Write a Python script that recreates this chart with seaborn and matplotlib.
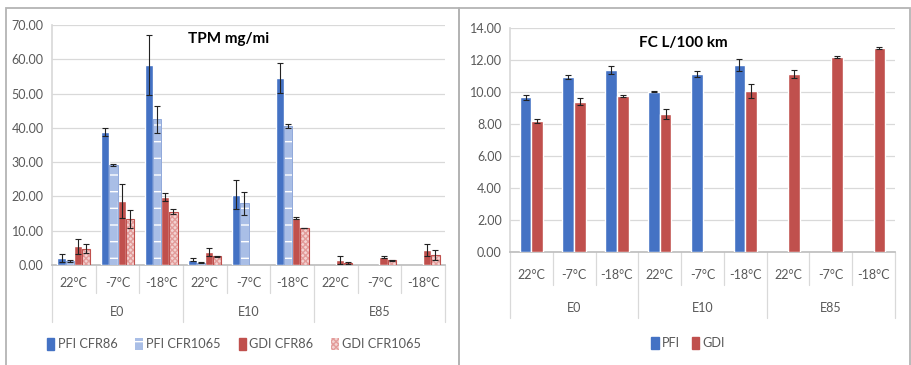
import numpy as np
import pandas as pd
import matplotlib
matplotlib.use("Agg")
import matplotlib.pyplot as plt
from matplotlib.patches import Patch, Rectangle
import seaborn as sns

# ---- data -------------------------------------------------------------
fuels = ["E0", "E10", "E85"]
temps = ["22°C", "-7°C", "-18°C"]
nan = np.nan

# Total particulate mass, mg/mi (mean and standard deviation)
tpm_series = ["PFI CFR86", "PFI CFR1065", "GDI CFR86", "GDI CFR1065"]
pfi_cfr86 = [2.0, 38.8, 58.3, 1.6, 20.5, 54.5, nan, nan, nan]
pfi_cfr86_sd = [1.1, 1.2, 8.8, 0.3, 4.2, 4.3, nan, nan, nan]
pfi_cfr1065 = [1.2, 29.3, 42.5, 0.7, 18.0, 40.5, nan, nan, nan]
pfi_cfr1065_sd = [0.2, 0.3, 4.0, 0.1, 3.3, 0.6, nan, nan, nan]
gdi_cfr86 = [5.4, 18.7, 19.8, 3.9, nan, 13.8, 1.5, 2.3, 4.3]
gdi_cfr86_sd = [2.1, 5.0, 1.2, 1.2, nan, 0.3, 1.2, 0.3, 1.7]
gdi_cfr1065 = [4.7, 13.5, 15.6, 2.5, nan, 10.8, 0.5, 1.4, 3.0]
gdi_cfr1065_sd = [1.3, 2.6, 0.8, 0.2, nan, 0.1, 0.3, 0.2, 1.4]

# Fuel consumption, L/100 km
fc_series = ["PFI", "GDI"]
fc_pfi = [9.67, 10.94, 11.38, 10.02, 11.13, 11.69, nan, nan, nan]
fc_pfi_sd = [0.15, 0.15, 0.25, 0.03, 0.18, 0.35, nan, nan, nan]
fc_gdi = [8.19, 9.40, 9.75, 8.63, nan, 10.06, 11.13, 12.17, 12.77]
fc_gdi_sd = [0.12, 0.20, 0.05, 0.30, nan, 0.45, 0.25, 0.07, 0.07]

# ---- style ------------------------------------------------------------
BLUE = "#4472C4"
LIGHT_BLUE = "#A9BEE6"
RED = "#C0504D"
LIGHT_RED = "#F3D3D2"
GRID = "#D9D9D9"
TXT = "#595959"
FS = 9

sns.set_theme(style="white")
plt.rcParams["font.family"] = ["Lato", "DejaVu Sans"]
plt.rcParams["hatch.linewidth"] = 1.0

cats = [f"{f}|{t}" for f in fuels for t in temps]


def long_frame(series_names, values, sds):
    rows = []
    for name, vals, sd in zip(series_names, values, sds):
        for c, v, s in zip(cats, vals, sd):
            rows.append({"cat": c, "series": name, "value": v, "sd": s})
    return pd.DataFrame(rows)


tpm = long_frame(tpm_series,
                 [pfi_cfr86, pfi_cfr1065, gdi_cfr86, gdi_cfr1065],
                 [pfi_cfr86_sd, pfi_cfr1065_sd, gdi_cfr86_sd, gdi_cfr1065_sd])
fc = long_frame(fc_series, [fc_pfi, fc_gdi], [fc_pfi_sd, fc_gdi_sd])

W, H = 911, 365
fig = plt.figure(figsize=(W / 100, H / 100), dpi=100)


def px_axes(x0, x1, y_top, y_bot):
    return fig.add_axes([x0 / W, 1 - y_bot / H, (x1 - x0) / W, (y_bot - y_top) / H])


# panel frames
for x0, x1 in [(6, 459), (458.5, 909.5)]:
    fig.patches.append(Rectangle((x0 / W, -0.05), (x1 - x0) / W, 1.05 - 7.5 / H,
                                 transform=fig.transFigure, fill=False,
                                 edgecolor="#B4B4B4", linewidth=1.3))


def draw_panel(ax, df, series, palette, width, ymax, title, title_xy,
               temp_off, group_off, tsep, gsep):
    sns.barplot(data=df, x="cat", y="value", hue="series", order=cats,
                hue_order=series, palette=palette, width=width, errorbar=None,
                saturation=1, legend=False, ax=ax, zorder=3)
    # error bars at the drawn bar centres
    for cont, name in zip(ax.containers, series):
        sub = df[df["series"] == name].set_index("cat")
        for bar in cont:
            xc = bar.get_x() + bar.get_width() / 2
            i = int(round(xc))
            v, s = sub.loc[cats[i], "value"], sub.loc[cats[i], "sd"]
            if np.isfinite(v) and np.isfinite(s):
                ax.errorbar(xc, v, yerr=s, fmt="none", ecolor="#222222",
                            elinewidth=0.8, capsize=2.5, capthick=0.8, zorder=4)
    ax.set_xlim(-0.5, len(cats) - 0.5)
    ax.set_ylim(0, ymax)
    ax.set_xlabel("")
    ax.set_ylabel("")
    ax.set_xticks(range(len(cats)))
    ax.set_xticklabels([])
    ax.tick_params(axis="x", length=0)
    ax.tick_params(axis="y", length=3, color="#BFBFBF", labelsize=FS,
                   labelcolor=TXT, pad=3)
    ax.yaxis.set_major_formatter(matplotlib.ticker.FormatStrFormatter("%.2f"))
    ax.grid(axis="y", color=GRID, linewidth=0.9, zorder=0)
    for sp in ["top", "right"]:
        ax.spines[sp].set_visible(False)
    ax.spines["left"].set_color(GRID)
    ax.spines["bottom"].set_color("#BFBFBF")
    ax.set_axisbelow(True)
    # two-level category axis
    for i, c in enumerate(cats):
        ax.annotate(c.split("|")[1], xy=(i, 0), xycoords=("data", "axes fraction"),
                    xytext=(0, -temp_off), textcoords="offset pixels",
                    ha="center", va="center", fontsize=FS, color=TXT)
    for g, f in enumerate(fuels):
        ax.annotate(f, xy=(3 * g + 1, 0), xycoords=("data", "axes fraction"),
                    xytext=(0, -group_off), textcoords="offset pixels",
                    ha="center", va="center", fontsize=FS, color=TXT)
    trans = ax.get_xaxis_transform()
    for k in range(len(cats) + 1):
        xb = k - 0.5
        depth = gsep if k % 3 == 0 else tsep
        ax.plot([xb, xb], [0, -depth], transform=trans, color=GRID,
                linewidth=0.9, clip_on=False)
    ax.text(title_xy[0], title_xy[1], title, transform=ax.transAxes,
            ha="center", va="center", fontsize=11, fontweight="bold",
            color="black")


# ---- left: TPM ----------------------------------------------------------
ax1 = px_axes(52, 445, 25, 265)
draw_panel(ax1, tpm, tpm_series, [BLUE, LIGHT_BLUE, RED, LIGHT_RED], 0.75, 70,
           "TPM mg/mi", (0.45, 0.94), 18, 47, 28 / 240, 57 / 240)
ax1.set_yticks(np.arange(0, 71, 10))
# pattern fills for the CFR1065 series
for bar in ax1.containers[1]:
    bar.set_hatch("-")
    bar.set_edgecolor("white")
    bar.set_linewidth(0)
for bar in ax1.containers[3]:
    bar.set_hatch("xxxxxx")
    bar.set_edgecolor("#E39C9A")
    bar.set_linewidth(0)
for bar in ax1.containers[1]:
    x, w, h = bar.get_x(), bar.get_width(), bar.get_height()
    if np.isfinite(h):
        ax1.add_patch(Rectangle((x, 0), w, h, fill=False, edgecolor="#8FA8DA",
                                linewidth=0.7, zorder=3))
for bar in ax1.containers[3]:
    x, w, h = bar.get_x(), bar.get_width(), bar.get_height()
    if np.isfinite(h):
        ax1.add_patch(Rectangle((x, 0), w, h, fill=False, edgecolor=RED,
                                linewidth=0.8, zorder=3))

h1 = [Patch(facecolor=BLUE, edgecolor=BLUE),
      Patch(facecolor=LIGHT_BLUE, edgecolor="white", hatch="-", linewidth=0),
      Patch(facecolor=RED, edgecolor=RED),
      Patch(facecolor=LIGHT_RED, edgecolor="#E39C9A", hatch="xxxxxx", linewidth=0)]
fig.legend(h1, tpm_series, loc="center", bbox_to_anchor=(234 / W, 1 - 344 / H),
           ncol=4, frameon=False, fontsize=9.2, handlelength=0.6,
           handleheight=1.1, handletextpad=0.25, columnspacing=1.4,
           labelcolor=TXT)

# ---- right: fuel consumption ------------------------------------------------
ax2 = px_axes(510, 895, 28, 252)
draw_panel(ax2, fc, fc_series, [BLUE, RED], 0.55, 14,
           "FC L/100 km", (0.45, 0.935), 23, 56, 33 / 224, 66 / 224)
ax2.set_yticks(np.arange(0, 14.1, 2))

h2 = [Patch(facecolor=BLUE, edgecolor=BLUE), Patch(facecolor=RED, edgecolor=RED)]
fig.legend(h2, fc_series, loc="center", bbox_to_anchor=(688 / W, 1 - 343 / H),
           ncol=2, frameon=False, fontsize=9.2, handlelength=0.6,
           handleheight=1.1, handletextpad=0.25, columnspacing=0.9,
           labelcolor=TXT)

fig.savefig("out.png", dpi=100)
